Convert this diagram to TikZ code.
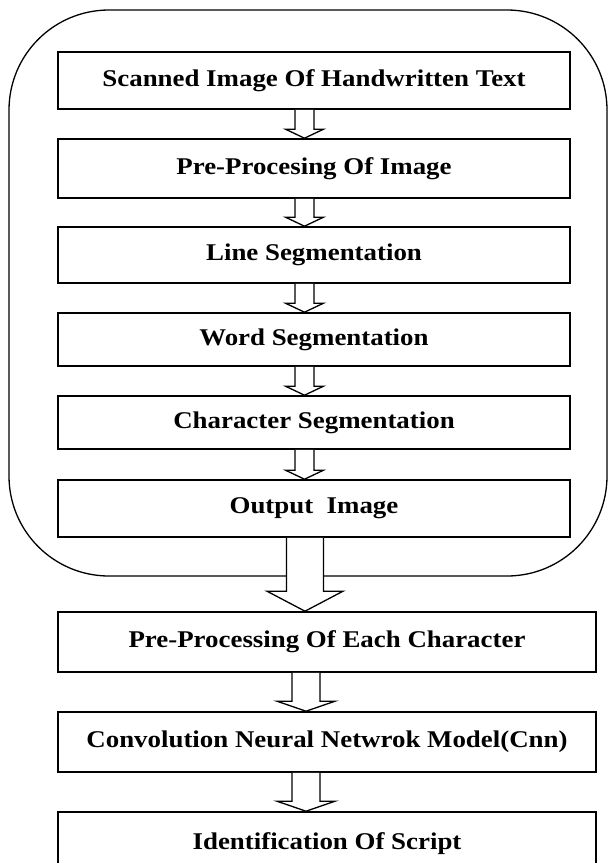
\documentclass[tikz,border=0pt]{standalone}
\usepackage{fontspec}
\setmainfont{Liberation Serif}[FakeStretch=1.12]
\usetikzlibrary{calc}

\tikzset{
  stage/.style={draw=black, line width=1.6pt, fill=white, inner sep=0pt,
    font=\fontsize{24}{28}\selectfont\bfseries, align=center},
  frame/.style={draw=black, line width=1.3pt, rounded corners=100pt},
  hollow/.style={draw=black, line width=1.3pt, fill=white, line join=miter}
}

% hollow block arrow at fixed x: from, to, half shaft, half head, head length
\newcommand\blockarrow[5]{%
  \draw[hollow] let \p1=(#1.south), \p2=(#2.north) in
    (\arrowx pt-#3,\y1) -- (\arrowx pt-#3,\y2+#5) -- (\arrowx pt-#4,\y2+#5)
    -- (\arrowx pt,\y2) -- (\arrowx pt+#4,\y2+#5) -- (\arrowx pt+#3,\y2+#5)
    -- (\arrowx pt+#3,\y1);}

\begin{document}
\begin{tikzpicture}[x=1pt,y=-1pt]
\useasboundingbox (0,0) rectangle (611,863);

% enclosing frame of the segmentation stages
\draw[frame] (9,10) rectangle (607,576);

% segmentation stages
\node[stage, minimum width=512pt, minimum height=57pt] (scan) at (314,80.5) {Scanned Image Of Handwritten Text};
\node[stage, minimum width=512pt, minimum height=59pt] (pre)  at (314,168.5) {Pre-Procesing Of Image};
\node[stage, minimum width=512pt, minimum height=56pt] (line) at (314,255) {Line Segmentation};
\node[stage, minimum width=512pt, minimum height=53pt] (word) at (314,339.5) {Word Segmentation};
\node[stage, minimum width=512pt, minimum height=53pt] (char) at (314,422.5) {Character Segmentation};
\node[stage, minimum width=512pt, minimum height=57pt] (out)  at (314,508.5) {Output\ \ Image};

% recognition stages
\node[stage, minimum width=538pt, minimum height=60pt] (prech) at (327,642) {Pre-Processing Of Each Character};
\node[stage, minimum width=538pt, minimum height=60pt] (cnn)   at (327,742) {Convolution Neural Netwrok Model(Cnn)};
\node[stage, minimum width=538pt, minimum height=64pt] (ident) at (327,844) {Identification Of Script};

% connectors
\def\arrowx{304.5}
\blockarrow{scan}{pre}{9.5pt}{19pt}{9pt}
\blockarrow{pre}{line}{9.5pt}{19pt}{9pt}
\blockarrow{line}{word}{9.5pt}{19pt}{9pt}
\blockarrow{word}{char}{9.5pt}{19pt}{9pt}
\blockarrow{char}{out}{9.5pt}{19pt}{9pt}
\def\arrowx{305}
\blockarrow{out}{prech}{18.5pt}{38pt}{20pt}
\def\arrowx{306}
\blockarrow{prech}{cnn}{14pt}{29pt}{10pt}
\blockarrow{cnn}{ident}{14pt}{29pt}{10pt}
\end{tikzpicture}
\end{document}
